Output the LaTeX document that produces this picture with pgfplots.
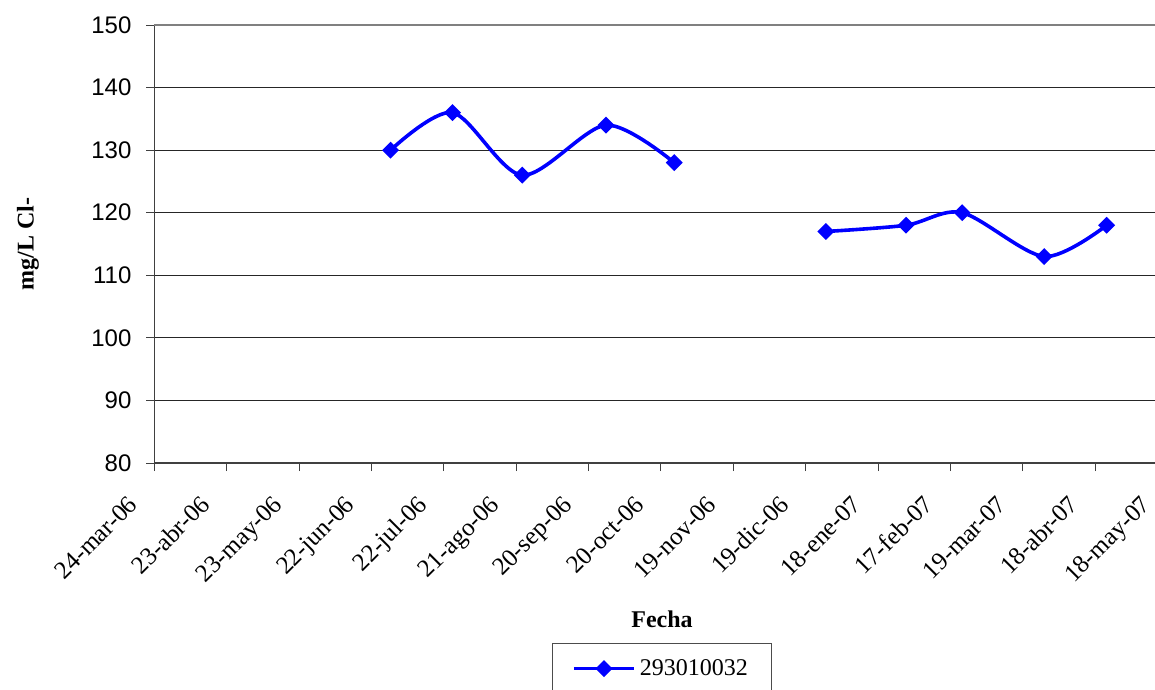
\documentclass[border=0pt]{standalone}
\usepackage{fontspec}
\setmainfont{Liberation Serif}
\newfontfamily\arial{Liberation Sans}
\usepackage{pgfplots}
\pgfplotsset{compat=1.18}
\definecolor{xlblue}{RGB}{0,0,255}
\begin{document}
\begin{tikzpicture}
\begin{axis}[
 scale only axis, width=506.5pt, height=219pt,
 xmin=0, xmax=420, ymin=80, ymax=150,
 xtick={0,30,...,420},
 xticklabels={24-mar-06,23-abr-06,23-may-06,22-jun-06,22-jul-06,21-ago-06,20-sep-06,20-oct-06,19-nov-06,19-dic-06,18-ene-07,17-feb-07,19-mar-07,18-abr-07,18-may-07},
 ytick={80,90,...,150},
 axis x line*=bottom, axis y line*=left,
 axis line style={-, black!75, line width=0.6pt},
 ymajorgrids, grid style={black!85, line width=0.5pt},
 tick align=outside, major tick length=4pt, tick style={black!75, line width=0.5pt},
 /pgf/number format/assume math mode=true,
 yticklabel style={font=\arial\fontsize{12}{14}\selectfont, xshift=-4pt},
 xticklabel style={font=\fontsize{12.5}{14}\selectfont, text height=8pt, text depth=2pt, xshift=-7.5pt, yshift=-13pt, rotate=45, anchor=east},
 xlabel={Fecha}, ylabel={mg/L Cl-},
 label style={font=\bfseries\fontsize{12}{14}\selectfont},
 xlabel style={at={(rel axis cs:0.501,-0.356)}, anchor=center},
 ylabel style={at={(rel axis cs:-0.1249,0.5)}, anchor=center},
 legend style={at={(rel axis cs:0.501,-0.41)}, anchor=north, draw=black!70, line width=0.5pt,
   font=\fontsize{12}{14}\selectfont, inner xsep=10pt, inner ysep=6pt},
 legend image code/.code={\draw[mark repeat=2,mark phase=2,#1] plot coordinates {(0pt,0pt) (15pt,0pt) (30pt,0pt)};},
 clip=false,
]
\draw[black!50, line width=1pt] (rel axis cs:0,1) -- (rel axis cs:1,1);
\addplot[xlblue, line width=1.8pt, smooth, mark=square*, mark size=2.1pt, mark options={rotate=45, solid}]
 coordinates {(97.9,130) (123.6,136) (152.5,126) (187.2,134) (215.5,128)};
\addlegendentry{293010032}
\addplot[xlblue, line width=1.8pt, smooth, mark=square*, mark size=2.1pt, mark options={rotate=45, solid}, forget plot]
 coordinates {(278.4,117) (311.6,118) (334.9,120) (368.9,113) (394.8,118)};
\coordinate (bbsw) at (rel axis cs:-0.1525,-0.516);
\coordinate (bbne) at (rel axis cs:0.9877,1.0571);
\end{axis}
\pgfresetboundingbox
\path[use as bounding box] (bbsw) rectangle (bbne);
\end{tikzpicture}
\end{document}
